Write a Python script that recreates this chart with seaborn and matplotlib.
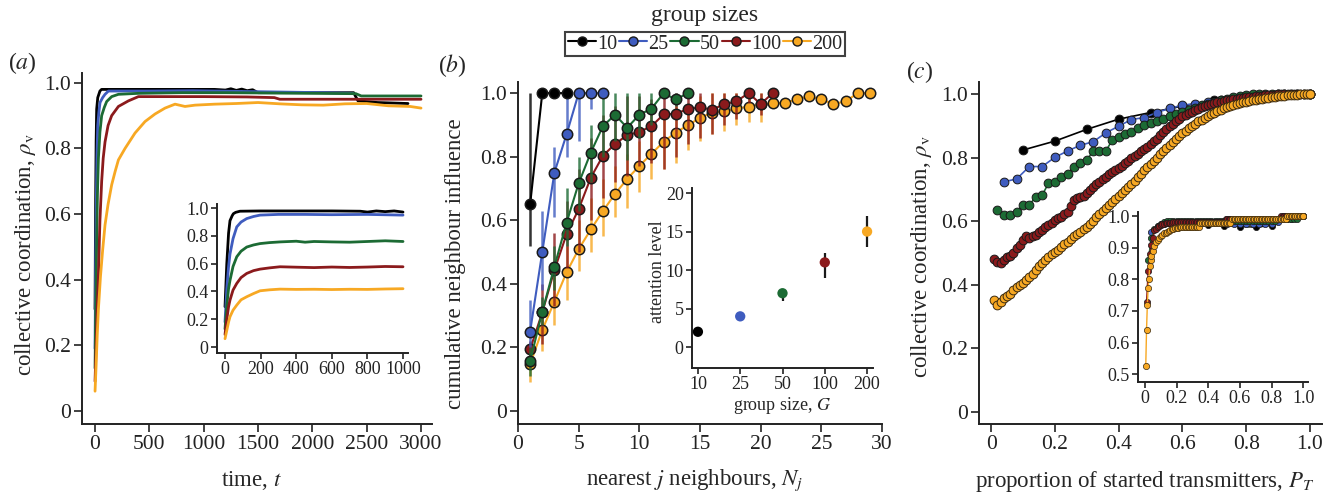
import numpy as np
import matplotlib
matplotlib.use('Agg')
import matplotlib.pyplot as plt
import seaborn as sns
from matplotlib.lines import Line2D

# ---------------- data ----------------
group_sizes = ['10', '25', '50', '100', '200']
colors = ['#000000', '#3f5cbf', '#1c6b34', '#8b1a1c', '#f7a823']

# (a) main: collective coordination over time
a_t10 = [0, 5, 10, 15, 25, 45, 60, 200, 500, 800, 1100, 1200, 1250, 1300, 1350, 1400, 1450, 1500, 2000, 2380, 2420, 2600, 2880]
a_v10 = [0.31, 0.62, 0.82, 0.92, 0.955, 0.975, 0.98, 0.98, 0.98, 0.98, 0.98, 0.978, 0.982, 0.977, 0.981, 0.976, 0.979, 0.97, 0.97, 0.97, 0.945, 0.94, 0.937]
a_t25 = [0, 5, 10, 18, 25, 35, 46, 70, 92, 123, 200, 500, 900, 1300, 1700, 2100, 2375]
a_v25 = [0.19, 0.42, 0.6, 0.78, 0.87, 0.91, 0.94, 0.955, 0.965, 0.975, 0.975, 0.975, 0.976, 0.974, 0.972, 0.97, 0.968]
a_t50 = [0, 8, 15, 22, 31, 45, 61, 85, 107, 153, 215, 400, 800, 1200, 1600, 2000, 2400, 2450, 3000]
a_v50 = [0.13, 0.35, 0.52, 0.66, 0.77, 0.85, 0.90, 0.925, 0.943, 0.958, 0.965, 0.968, 0.97, 0.97, 0.969, 0.968, 0.967, 0.96, 0.96]
a_t100 = [0, 10, 20, 31, 45, 61, 75, 92, 120, 153, 215, 307, 399, 600, 1000, 1400, 1650, 1700, 3000]
a_v100 = [0.09, 0.2, 0.31, 0.415, 0.58, 0.70, 0.77, 0.82, 0.87, 0.90, 0.928, 0.945, 0.958, 0.958, 0.958, 0.957, 0.955, 0.95, 0.95]
a_t200 = [0, 10, 20, 31, 50, 70, 92, 120, 153, 185, 215, 276, 368, 460, 552, 644, 736, 828, 920, 1100, 1300, 1500, 1700, 1900, 2100, 2300, 2500, 2700, 2900, 3000]
a_v200 = [0.06, 0.14, 0.23, 0.31, 0.41, 0.49, 0.567, 0.63, 0.689, 0.73, 0.765, 0.80, 0.847, 0.882, 0.905, 0.923, 0.935, 0.928, 0.932, 0.935, 0.937, 0.94, 0.936, 0.933, 0.932, 0.936, 0.937, 0.93, 0.928, 0.923]

# (a) inset
ia_t10 = [0, 10, 20, 28, 40, 47, 60, 84, 200, 400, 600, 760, 800, 850, 900, 950, 1000]
ia_v10 = [0.29, 0.6, 0.82, 0.91, 0.945, 0.96, 0.97, 0.978, 0.98, 0.98, 0.98, 0.978, 0.972, 0.98, 0.975, 0.98, 0.972]
ia_t25 = [0, 10, 20, 28, 45, 66, 90, 122, 160, 197, 300, 450, 600, 800, 1000]
ia_v25 = [0.18, 0.42, 0.58, 0.67, 0.78, 0.865, 0.90, 0.925, 0.94, 0.95, 0.955, 0.955, 0.953, 0.955, 0.95]
ia_t50 = [0, 10, 20, 28, 45, 66, 90, 122, 160, 197, 250, 309, 400, 450, 500, 600, 700, 800, 900, 1000]
ia_v50 = [0.13, 0.3, 0.42, 0.48, 0.58, 0.65, 0.69, 0.72, 0.735, 0.745, 0.752, 0.757, 0.762, 0.755, 0.76, 0.757, 0.755, 0.76, 0.765, 0.76]
ia_t100 = [0, 10, 20, 28, 45, 66, 90, 122, 160, 197, 250, 309, 400, 500, 600, 700, 800, 900, 1000]
ia_v100 = [0.09, 0.2, 0.29, 0.338, 0.41, 0.458, 0.5, 0.53, 0.55, 0.561, 0.57, 0.578, 0.575, 0.572, 0.576, 0.573, 0.576, 0.58, 0.578]
ia_t200 = [0, 10, 20, 28, 45, 66, 90, 122, 160, 197, 250, 309, 400, 500, 600, 700, 800, 900, 1000]
ia_v200 = [0.06, 0.12, 0.18, 0.218, 0.265, 0.302, 0.34, 0.362, 0.385, 0.405, 0.412, 0.417, 0.415, 0.416, 0.414, 0.416, 0.415, 0.418, 0.42]

# (b) main: cumulative neighbour influence (mean, lower, upper)
b_x10 = [1, 2, 3, 4]
b_y10 = [0.65, 1.0, 1.0, 1.0]
b_lo10 = [0.52, 1.0, 1.0, 1.0]
b_hi10 = [1.0, 1.0, 1.0, 1.0]
b_x25 = [1, 2, 3, 4, 5, 6, 7]
b_y25 = [0.25, 0.50, 0.75, 0.87, 1.0, 1.0, 1.0]
b_lo25 = [0.20, 0.38, 0.61, 0.80, 0.85, 0.95, 1.0]
b_hi25 = [0.35, 0.63, 0.83, 1.0, 1.0, 1.0, 1.0]
b_x50 = list(range(1, 15))
b_y50 = [0.157, 0.312, 0.454, 0.592, 0.716, 0.813, 0.896, 0.932, 0.891, 0.932, 0.951, 1.0, 0.98, 1.0]
b_lo50 = [0.11, 0.27, 0.38, 0.52, 0.63, 0.72, 0.80, 0.85, 0.79, 0.86, 0.90, 1.0, 0.96, 1.0]
b_hi50 = [0.20, 0.36, 0.52, 0.70, 0.80, 0.90, 1.0, 1.0, 1.0, 1.0, 1.0, 1.0, 1.0, 1.0]
b_x100 = list(range(1, 22))
b_y100 = [0.194, 0.31, 0.443, 0.556, 0.635, 0.734, 0.803, 0.84, 0.868, 0.878, 0.896, 0.933, 0.935, 0.95, 0.955, 0.948, 0.965, 0.974, 1.0, 0.966, 1.0]
b_lo100 = [0.17, 0.21, 0.33, 0.45, 0.50, 0.60, 0.67, 0.72, 0.74, 0.77, 0.78, 0.76, 0.80, 0.84, 0.86, 0.87, 0.90, 0.92, 0.97, 0.93, 1.0]
b_hi100 = [0.22, 0.40, 0.56, 0.66, 0.76, 0.86, 0.93, 0.96, 0.99, 0.99, 0.98, 1.0, 1.0, 1.0, 1.0, 1.0, 1.0, 1.0, 1.0, 1.0, 1.0]
b_x200 = list(range(1, 30))
b_y200 = [0.147, 0.255, 0.344, 0.436, 0.509, 0.571, 0.629, 0.683, 0.73, 0.771, 0.809, 0.847, 0.876, 0.899, 0.922, 0.939, 0.943, 0.952, 0.957, 0.965, 0.968, 0.97, 0.98, 0.991, 0.98, 0.966, 0.974, 1.0, 1.0]
b_lo200 = [0.09, 0.19, 0.27, 0.35, 0.44, 0.50, 0.55, 0.61, 0.64, 0.69, 0.73, 0.76, 0.78, 0.82, 0.85, 0.87, 0.88, 0.90, 0.91, 0.91, 0.968, 0.97, 0.98, 0.991, 0.98, 0.966, 0.974, 1.0, 1.0]
b_hi200 = [0.20, 0.32, 0.42, 0.52, 0.60, 0.67, 0.73, 0.77, 0.81, 0.85, 0.89, 0.93, 0.96, 0.97, 0.99, 1.0, 1.0, 1.0, 1.0, 1.0, 0.968, 0.97, 0.98, 0.991, 0.98, 0.966, 0.974, 1.0, 1.0]

# (b) inset: attention level per group size
att_mean = [2, 4, 7, 11, 15]
att_lo = [2, 4, 6, 9, 13]
att_hi = [2, 4, 7.6, 12.2, 17]

# (c) main: collective coordination vs proportion of started transmitters
c_y10 = [0.824, 0.852, 0.889, 0.921, 0.942, 0.962, 0.981, 0.99, 1.0, 1.0]
c_y25 = [0.724, 0.733, 0.772, 0.772, 0.801, 0.821, 0.839, 0.85, 0.878, 0.899, 0.92, 0.926, 0.942, 0.955, 0.965,
         0.97, 0.975, 0.98, 0.985, 0.99, 0.993, 0.995, 1.0, 1.0, 1.0]
c_y50 = [0.635, 0.621, 0.619, 0.63, 0.651, 0.651, 0.677, 0.682, 0.719, 0.724,
         0.74, 0.75, 0.77, 0.782, 0.792, 0.821, 0.821, 0.821, 0.855, 0.866,
         0.873, 0.881, 0.892, 0.902, 0.91, 0.915, 0.922, 0.93, 0.938, 0.945,
         0.95, 0.957, 0.965, 0.97, 0.975, 0.98, 0.985, 0.99, 0.995, 0.998,
         1.0, 1.0, 1.0, 1.0, 1.0, 1.0, 1.0, 1.0, 1.0, 1.0]
c_y100 = [0.481, 0.471, 0.470, 0.478, 0.486, 0.490, 0.500, 0.515, 0.526, 0.540,
          0.552, 0.548, 0.552, 0.557, 0.566, 0.572, 0.583, 0.588, 0.594, 0.604,
          0.610, 0.614, 0.622, 0.630, 0.648, 0.668, 0.672, 0.676, 0.680, 0.688,
          0.698, 0.708, 0.716, 0.724, 0.733, 0.740, 0.748, 0.755, 0.761, 0.768,
          0.775, 0.782, 0.790, 0.798, 0.806, 0.812, 0.820, 0.828, 0.835, 0.843,
          0.852, 0.860, 0.870, 0.880, 0.890, 0.898, 0.906, 0.914, 0.922, 0.930,
          0.935, 0.940, 0.945, 0.950, 0.954, 0.958, 0.962, 0.965, 0.968, 0.971,
          0.974, 0.976, 0.978, 0.980, 0.982, 0.984, 0.986, 0.988, 0.989, 0.990,
          0.991, 0.992, 0.993, 0.994, 0.995, 0.996, 0.997, 0.998, 0.998, 0.999,
          0.999, 1.0, 1.0, 1.0, 1.0, 1.0, 1.0, 1.0, 1.0, 1.0]
c_y200 = [0.352, 0.337, 0.345, 0.358, 0.365, 0.372, 0.383, 0.392, 0.400, 0.407,
          0.416, 0.425, 0.433, 0.445, 0.458, 0.470, 0.478, 0.488, 0.497, 0.503,
          0.510, 0.518, 0.527, 0.535, 0.543, 0.552, 0.560, 0.566, 0.574, 0.583,
          0.592, 0.602, 0.612, 0.622, 0.632, 0.642, 0.652, 0.662, 0.670, 0.678,
          0.688, 0.698, 0.708, 0.718, 0.728, 0.740, 0.750, 0.760, 0.770, 0.780,
          0.790, 0.800, 0.810, 0.820, 0.830, 0.840, 0.849, 0.858, 0.867, 0.876,
          0.884, 0.892, 0.900, 0.907, 0.914, 0.920, 0.926, 0.932, 0.937, 0.942,
          0.947, 0.951, 0.955, 0.959, 0.962, 0.965, 0.968, 0.971, 0.974, 0.976,
          0.978, 0.980, 0.982, 0.984, 0.986, 0.988, 0.989, 0.990, 0.992, 0.993,
          0.994, 0.995, 0.996, 0.997, 0.998, 0.998, 0.999, 0.999, 1.0, 1.0]

# (c) inset
ic_y10 = [0.975, 0.978, 0.975, 0.972, 0.97, 0.967, 0.965, 0.97, 0.99, 1.0]
ic_y25 = [0.95, 0.97, 0.975, 0.978, 0.978, 0.978, 0.978, 0.978, 0.978, 0.978, 0.978, 0.978, 0.976, 0.976,
          0.976, 0.976, 0.976, 0.976, 0.976, 0.976, 0.98, 0.99, 0.99, 1.0, 1.0]
ic_y50 = [0.86, 0.93, 0.96, 0.97, 0.975, 0.98, 0.983, 0.985, 0.985, 0.985,
          0.985, 0.985, 0.985, 0.985, 0.985, 0.985, 0.985, 0.985, 0.985, 0.985,
          0.985, 0.985, 0.985, 0.985, 0.985, 0.985, 0.985, 0.985, 0.985, 0.985,
          0.985, 0.985, 0.985, 0.985, 0.985, 0.985, 0.985, 0.985, 0.985, 0.985,
          0.985, 0.99, 0.99, 0.99, 0.99, 0.99, 0.99, 0.99, 1.0, 1.0]
ic_y100 = [0.729, 0.826, 0.88, 0.91, 0.932, 0.955, 0.96, 0.966, 0.97, 0.972,
           0.974, 0.975, 0.977, 0.978, 0.978, 0.979, 0.979, 0.98, 0.98, 0.98,
           0.98, 0.98, 0.98, 0.98, 0.98, 0.98, 0.98, 0.98, 0.98, 0.98,
           0.98, 0.98, 0.98, 0.98, 0.98, 0.98, 0.98, 0.98, 0.98, 0.98,
           0.98, 0.98, 0.98, 0.98, 0.98, 0.98, 0.98, 0.98, 0.98, 0.98,
           0.99, 0.99, 0.99, 0.99, 0.99, 0.99, 0.99, 0.99, 0.99, 0.99,
           0.99, 0.99, 0.99, 0.99, 0.99, 0.99, 0.99, 0.99, 0.99, 0.99,
           0.99, 0.99, 0.99, 0.99, 0.99, 0.99, 0.99, 0.99, 0.99, 0.99,
           0.99, 0.99, 0.99, 0.99, 0.99, 1.0, 1.0, 1.0, 1.0, 1.0,
           1.0, 1.0, 1.0, 1.0, 1.0, 1.0, 1.0, 1.0, 1.0, 1.0]
ic_x200 = [0.005, 0.01, 0.015, 0.02, 0.025, 0.03, 0.035, 0.04] + [round(0.05 + 0.01 * k, 2) for k in range(96)]
ic_y200 = [0.526, 0.641, 0.72, 0.772, 0.802, 0.841, 0.86, 0.874,
           0.89, 0.905, 0.918, 0.925, 0.932, 0.937, 0.941, 0.945, 0.948, 0.95,
           0.953, 0.955, 0.958, 0.959, 0.961, 0.963, 0.963, 0.964, 0.964, 0.965,
           0.965, 0.965, 0.965, 0.966, 0.966, 0.966, 0.966, 0.966, 0.966, 0.966,
           0.978, 0.978, 0.978, 0.978, 0.978, 0.978, 0.978, 0.978, 0.978, 0.978,
           0.978, 0.978, 0.978, 0.978, 0.978, 0.978, 0.978, 0.978, 0.978, 0.978,
           0.99, 0.99, 0.99, 0.99, 0.99, 0.99, 0.99, 0.99, 0.99, 0.99,
           0.99, 0.99, 0.99, 0.99, 0.99, 0.99, 0.99, 0.99, 0.99, 0.99,
           0.99, 0.99, 0.99, 0.99, 0.99, 0.99, 0.99, 0.99, 0.99, 0.99,
           0.99, 0.99, 0.99, 0.99, 0.99, 1.0, 1.0, 1.0, 1.0, 1.0,
           1.0, 1.0, 1.0, 1.0, 1.0, 1.0]

# ---------------- style ----------------
sns.set_theme(style='ticks')
plt.rcParams['font.family'] = ['Liberation Serif', 'DejaVu Serif']
plt.rcParams['mathtext.fontset'] = 'stix'
plt.rcParams['axes.linewidth'] = 1.4
plt.rcParams['axes.edgecolor'] = '#222222'

W, H = 1339, 501
fig = plt.figure(figsize=(W / 100, H / 100), dpi=100)


def px_axes(left, top, right, bottom):
    return fig.add_axes([left / W, 1 - bottom / H, (right - left) / W, (bottom - top) / H])


def style(ax, fs, tl):
    sns.despine(ax=ax)
    ax.tick_params(direction='out', length=tl, width=1.2, labelsize=fs, colors='#222222', pad=2)
    for lab in ax.get_xticklabels() + ax.get_yticklabels():
        lab.set_color('#222222')
    ax.patch.set_alpha(0)


FS_TICK, FS_LAB = 15.5, 16.5
FS_ITICK, FS_ILAB = 13, 13

# ---------------- (a) ----------------
axa = px_axes(82, 73, 432, 424)
for t, v, c in zip([a_t10, a_t25, a_t50, a_t100, a_t200], [a_v10, a_v25, a_v50, a_v100, a_v200], colors):
    sns.lineplot(x=t, y=v, ax=axa, color=c, lw=2, sort=False, estimator=None)
axa.set_xlim(-120, 3101)
axa.set_ylim(-0.04, 1.03)
axa.set_xticks([0, 500, 1000, 1500, 2000, 2500, 3000], ['0', '500', '1000', '1500', '2000', '2500', '3000'])
axa.set_yticks([0, 0.2, 0.4, 0.6, 0.8, 1.0], ['0', '0.2', '0.4', '0.6', '0.8', '1.0'])
style(axa, FS_TICK, 6)
axa.set_xlabel('time, $t$', fontsize=FS_LAB, va='center')
axa.set_ylabel(r'collective coordination, $\rho_{\mathrm{v}}$', fontsize=FS_LAB, va='center')
axa.xaxis.set_label_coords(0.483, -0.162)
axa.yaxis.set_label_coords(-0.16, 0.484)

iaa = px_axes(217, 204, 408, 353)
for t, v, c in zip([ia_t10, ia_t25, ia_t50, ia_t100, ia_t200], [ia_v10, ia_v25, ia_v50, ia_v100, ia_v200], colors):
    sns.lineplot(x=t, y=v, ax=iaa, color=c, lw=2, sort=False, estimator=None)
iaa.set_xlim(-45, 1028)
iaa.set_ylim(-0.043, 1.03)
iaa.set_xticks([0, 200, 400, 600, 800, 1000], ['0', '200', '400', '600', '800', '1000'])
iaa.set_yticks([0, 0.2, 0.4, 0.6, 0.8, 1.0], ['0', '0.2', '0.4', '0.6', '0.8', '1.0'])
style(iaa, FS_ITICK, 4)
iaa.set_xlabel('')
iaa.set_ylabel('')

# ---------------- (b) ----------------
axb = px_axes(518, 82, 882, 424)
bx = [b_x10, b_x25, b_x50, b_x100, b_x200]
by = [b_y10, b_y25, b_y50, b_y100, b_y200]
blo = [b_lo10, b_lo25, b_lo50, b_lo100, b_lo200]
bhi = [b_hi10, b_hi25, b_hi50, b_hi100, b_hi200]
for i in [4, 3, 2, 1, 0]:
    y = np.array(by[i])
    yerr = [y - np.array(blo[i]), np.array(bhi[i]) - y]
    axb.errorbar(bx[i], y, yerr=yerr, fmt='none', ecolor=colors[i], elinewidth=1.8, alpha=0.8, zorder=2 + (4 - i) * 2)
    sns.lineplot(x=bx[i], y=by[i], ax=axb, color=colors[i], lw=1.5, marker='o', markersize=7.5,
                 markeredgecolor='#1a1a1a', markeredgewidth=1.1, sort=False, estimator=None,
                 zorder=3 + (4 - i) * 2)
axb.set_xlim(0, 30)
axb.set_ylim(-0.041, 1.035)
axb.set_xticks([0, 5, 10, 15, 20, 25, 30], ['0', '5', '10', '15', '20', '25', '30'])
axb.set_yticks([0, 0.2, 0.4, 0.6, 0.8, 1.0], ['0', '0.2', '0.4', '0.6', '0.8', '1.0'])
style(axb, FS_TICK, 6)
axb.set_xlabel('nearest $j$ neighbours, $N_j$', fontsize=FS_LAB, va='center')
axb.set_ylabel('cumulative neighbour influence', fontsize=FS_LAB, va='center')
axb.xaxis.set_label_coords(0.486, -0.164)
axb.yaxis.set_label_coords(-0.173, 0.468)

iab = px_axes(692, 188, 873, 368)
pos = list(range(len(group_sizes)))
for i in range(5):
    if att_hi[i] > att_lo[i]:
        iab.errorbar([pos[i]], [att_mean[i]], yerr=[[att_mean[i] - att_lo[i]], [att_hi[i] - att_mean[i]]],
                     fmt='none', ecolor='#1a1a1a', elinewidth=1.6, zorder=2)
sns.scatterplot(x=pos, y=att_mean, hue=group_sizes, palette=colors, ax=iab, s=55,
                edgecolor='none', legend=False, zorder=3)
iab.set_xlim(-0.14, 4.14)
iab.set_ylim(-2.7, 20.65)
iab.set_xticks(pos, group_sizes)
iab.set_yticks([0, 5, 10, 15, 20], ['0', '5', '10', '15', '20'])
style(iab, FS_ITICK, 4)
iab.set_xlabel('group size, $G$', fontsize=FS_ILAB, va='center')
iab.set_ylabel('attention level', fontsize=FS_ILAB, va='center')
iab.xaxis.set_label_coords(0.497, -0.206)
iab.yaxis.set_label_coords(-0.193, 0.533)

# ---------------- (c) ----------------
axc = px_axes(979, 82, 1322, 424)
cx = [[round(0.1 * k, 3) for k in range(1, 11)],
      [round(0.04 * k, 3) for k in range(1, 26)],
      [round(0.02 * k, 3) for k in range(1, 51)],
      [round(0.01 * k, 3) for k in range(1, 101)],
      [round(0.01 * k, 3) for k in range(1, 101)]]
cy = [c_y10, c_y25, c_y50, c_y100, c_y200]
for i in range(5):
    sns.lineplot(x=cx[i], y=cy[i], ax=axc, color=colors[i], lw=1.2, marker='o', markersize=6.3,
                 markeredgecolor='#3a2a10' if i == 4 else '#1a1a1a', markeredgewidth=0.7,
                 sort=False, estimator=None)
axc.set_xlim(-0.038, 1.038)
axc.set_ylim(-0.038, 1.038)
axc.set_xticks([0, 0.2, 0.4, 0.6, 0.8, 1.0], ['0', '0.2', '0.4', '0.6', '0.8', '1.0'])
axc.set_yticks([0, 0.2, 0.4, 0.6, 0.8, 1.0], ['0', '0.2', '0.4', '0.6', '0.8', '1.0'])
style(axc, FS_TICK, 6)
axc.set_xlabel('proportion of started transmitters, $P_T$', fontsize=FS_LAB, va='center')
axc.set_ylabel(r'collective coordination, $\rho_{\mathrm{v}}$', fontsize=FS_LAB, va='center')
axc.xaxis.set_label_coords(0.484, -0.167)
axc.yaxis.set_label_coords(-0.169, 0.49)

iac = px_axes(1138, 212, 1308, 382)
icx = [cx[0], cx[1], cx[2], cx[3], ic_x200]
icy = [ic_y10, ic_y25, ic_y50, ic_y100, ic_y200]
for i in range(5):
    sns.lineplot(x=icx[i], y=icy[i], ax=iac, color=colors[i], lw=1.0, marker='o', markersize=4.5,
                 markeredgecolor='#3a2a10' if i == 4 else '#1a1a1a', markeredgewidth=0.5,
                 sort=False, estimator=None)
iac.set_xlim(-0.044, 1.03)
iac.set_ylim(0.475, 1.013)
iac.set_xticks([0, 0.2, 0.4, 0.6, 0.8, 1.0], ['0', '0.2', '0.4', '0.6', '0.8', '1.0'])
iac.set_yticks([0.5, 0.6, 0.7, 0.8, 0.9, 1.0], ['0.5', '0.6', '0.7', '0.8', '0.9', '1.0'])
style(iac, FS_ITICK, 4)
iac.set_xlabel('')
iac.set_ylabel('')

# ---------------- legend & panel labels ----------------
handles = [Line2D([0], [0], color=c, lw=1.5, marker='o', markersize=6.5, markeredgecolor='#1a1a1a',
                  markeredgewidth=1.0) for c in colors]
leg = fig.legend(handles, group_sizes, loc='center', bbox_to_anchor=(705 / W, 1 - 44 / H), ncol=5,
                 fontsize=14.5, frameon=True, fancybox=False, edgecolor='#111111', handlelength=1.4,
                 handletextpad=0.05, columnspacing=0.1, borderpad=0.12, borderaxespad=0)
leg.get_frame().set_linewidth(1.5)
fig.text(705 / W, 1 - 15 / H, 'group sizes', ha='center', va='center', fontsize=17)

fig.text(22 / W, 1 - 63 / H, r'($\mathit{a}$)', ha='center', va='center', fontsize=17)
fig.text(452 / W, 1 - 66 / H, r'($\mathit{b}$)', ha='center', va='center', fontsize=17)
fig.text(920 / W, 1 - 72 / H, r'($\mathit{c}$)', ha='center', va='center', fontsize=17)

fig.savefig('out.png', dpi=100)
